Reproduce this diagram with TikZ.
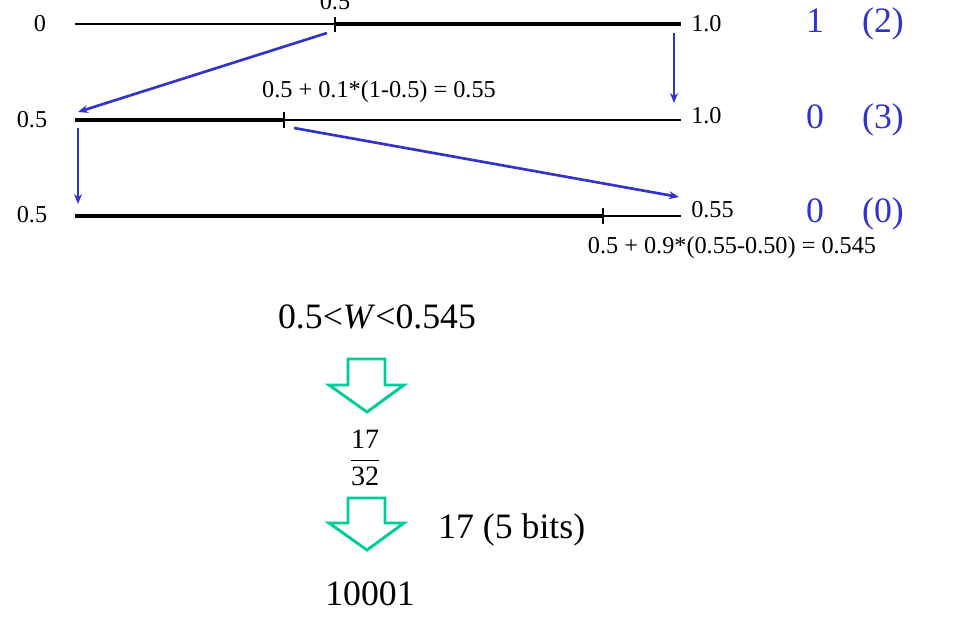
\documentclass[tikz,border=0pt]{standalone}
\usepackage{amsmath}
\usepackage{fontspec}
\setmainfont{Liberation Serif}
\usetikzlibrary{arrows.meta}
\definecolor{moveblue}{RGB}{51,51,204}
\definecolor{codegreen}{RGB}{0,204,153}

\begin{document}
\begin{tikzpicture}[x=0.75pt, y=-0.75pt, >={Stealth[length=7.5pt, width=6pt]}]
% --- Global Styles ---
\tikzstyle{thinline} = [line width=0.8pt]
\tikzstyle{thickline} = [line width=3.7pt]
\tikzstyle{tickmark} = [line width=0.8pt]
\tikzstyle{move} = [->, moveblue, line width=2pt]
\tikzstyle{val} = [font=\fontsize{18.2}{21}\selectfont, inner sep=0pt, anchor=base]
\tikzstyle{big} = [font=\fontsize{26.8}{31}\selectfont, inner sep=0pt, anchor=base]
\tikzstyle{sym} = [big, text=moveblue]
\tikzstyle{hollow} = [draw=codegreen, line width=2.2pt, line join=miter]

\useasboundingbox (0,0) rectangle (956,635);

% --- Interval Coordinates ---
\def\xl{75}    % left end of every interval
\def\xr{681}   % right end of every interval
\def\ya{24}    % first row
\def\yb{120}   % second row
\def\yc{216}   % third row
\def\ma{335}   % split of first row
\def\mb{284}   % split of second row
\def\mc{603}   % split of third row

% ==========================================
% FIRST ROW: [0, 1.0)
% ==========================================
\coordinate (r1l) at (\xl,\ya);
\coordinate (r1m) at (\ma,\ya);
\coordinate (r1r) at (\xr,\ya);
\draw[thinline] (r1l) -- (r1m);
\draw[thickline] (r1m) -- (r1r);
\draw[tickmark] (\ma,\ya-7) -- (\ma,\ya+8);

\node[val] (l1) at (40,32) {0};
\node[val] (m1) at (\ma,10) {0.5};
\node[val, anchor=base west] (r1) at (691,32) {1.0};
\node[sym] (s1) at (815,33) {1};
\node[sym] (c1) at (883,33) {(2)};

% ==========================================
% SECOND ROW: [0.5, 1.0)
% ==========================================
\coordinate (r2l) at (\xl,\yb);
\coordinate (r2m) at (\mb,\yb);
\coordinate (r2r) at (\xr,\yb);
\draw[thickline] (r2l) -- (r2m);
\draw[thinline] (r2m) -- (r2r);
\draw[tickmark] (\mb,\yb-8) -- (\mb,\yb+8);

\node[val] (l2) at (32,127) {0.5};
\node[val] (m2) at (379,98) {0.5 + 0.1*(1-0.5) = 0.55};
\node[val, anchor=base west] (r2) at (691,123) {1.0};
\node[sym] (s2) at (815,128) {0};
\node[sym] (c2) at (883,128) {(3)};

% ==========================================
% THIRD ROW: [0.5, 0.55)
% ==========================================
\coordinate (r3l) at (\xl,\yc);
\coordinate (r3m) at (\mc,\yc);
\coordinate (r3r) at (\xr,\yc);
\draw[thickline] (r3l) -- (r3m);
\draw[thinline] (r3m) -- (r3r);
\draw[tickmark] (\mc,\yc-8) -- (\mc,\yc+8);

\node[val] (l3) at (32,222) {0.5};
\node[val] (m3) at (732,253) {0.5 + 0.9*(0.55-0.50) = 0.545};
\node[val, anchor=base west] (r3) at (691,217) {0.55};
\node[sym] (s3) at (815,222) {0};
\node[sym] (c3) at (883,222) {(0)};

% Blue moves between rows
\coordinate (a1s) at (327,33);
\coordinate (a1e) at (78,112);
\coordinate (a2s) at (674,33);
\coordinate (a2e) at (674,103);
\coordinate (a3s) at (78,128);
\coordinate (a3e) at (78,204);
\coordinate (a4s) at (294,128);
\coordinate (a4e) at (679,197);
\draw[move] (a1s) -- (a1e);
\draw[move] (a2s) -- (a2e);
\draw[move] (a3s) -- (a3e);
\draw[move] (a4s) -- (a4e);

% ==========================================
% RESULT: interval -> fraction -> code
% ==========================================
\node[big] (w) at (377,328) {0.5<\textit{W}<0.545};

% hollow arrows, drawn from the tip
\coordinate (ta) at (367,412);
\coordinate (tb) at (367,550);
\draw[hollow] (ta) -- ++(-38,-27) -- ++(19,0) -- ++(0,-26) -- ++(37,0)
  -- ++(0,26) -- ++(19,0) -- cycle;
\draw[hollow] (tb) -- ++(-38,-27) -- ++(19,0) -- ++(0,-25) -- ++(37,0)
  -- ++(0,25) -- ++(19,0) -- cycle;

\node[font=\fontsize{21}{25}\selectfont, inner sep=0pt] (frac) at (365,458)
  {$\dfrac{\text{17}}{\text{32}}$};
\node[big, anchor=base west] (bits) at (438,538) {17 (5 bits)};
\node[big] (code) at (370,605) {10001};

\end{tikzpicture}
\end{document}
